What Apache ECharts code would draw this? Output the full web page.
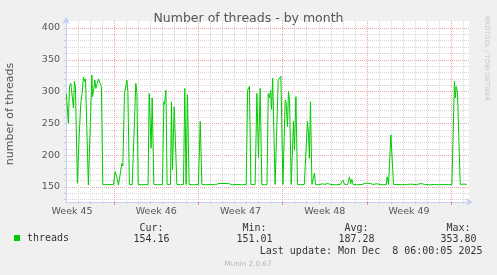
<!DOCTYPE html>
<html><head><meta charset="utf-8">
<script src="https://cdn.jsdelivr.net/npm/echarts@6/dist/echarts.min.js"></script>
<style>html,body{margin:0;padding:0;background:#f0f0f0;}#c{width:497px;height:275px;}</style>
</head><body><div id="c"></div>
<script>
// x values are days since Mon 2025-11-03 00:00 (start of week 45)
const seriesName = 'threads';
const threads = [
 [3.03,297],[3.2,250],[3.29,308],[3.4,313],[3.54,313],[3.62,274],[3.7,316],[3.78,308],[3.95,156],[4.09,229],
 [4.23,282],[4.34,297],[4.45,323],[4.53,316],[4.62,320],[4.86,153],[5.15,326],[5.2,292],[5.28,300],[5.4,318],
 [5.48,305],[5.58,312],[5.7,320],[5.84,313],[5.94,308],[6.06,154],[6.3,153.5],[6.6,154],[6.94,153.5],[7.08,174],
 [7.22,166],[7.36,153],[7.5,154],[7.64,187],[7.72,183],[7.86,297],[8.06,318],[8.14,300],[8.27,154],[8.5,153.5],
 [8.66,154],[8.8,313],[8.89,298],[9.0,154],[9.3,153.5],[9.6,154],[9.82,153.5],[9.91,297],[10.02,294],[10.07,211],
 [10.16,290],[10.3,154],[10.6,153.5],[11.01,154],[11.13,284],[11.18,280],[11.3,302],[11.4,154],[11.68,154],[11.76,284],
 [11.84,177],[11.99,276],[12.09,276],[12.21,154],[12.5,153.5],[12.76,154],[12.87,305],[12.98,154],[13.09,295],[13.23,154],
 [13.6,153.5],[14.0,154],[14.15,253],[14.29,154],[14.6,153.5],[15.0,154],[15.4,153.5],[15.7,155.5],[15.8,154],[15.95,155.5],
 [16.1,154],[16.3,155.5],[16.45,154],[16.6,155],[16.8,153.5],[17.2,154],[17.6,153.5],[17.97,154],[18.09,302],[18.16,300],
 [18.24,308],[18.36,154],[18.71,154],[18.86,297],[18.99,196],[19.13,305],[19.27,154],[19.5,153.5],[19.7,154],[19.8,297],
 [19.9,290],[20.0,302],[20.08,272],[20.17,321],[20.37,154],[20.5,154],[20.63,318],[20.75,316],[20.85,324],[21.02,154],
 [21.1,154],[21.21,287],[21.29,282],[21.4,245],[21.48,300],[21.57,287],[21.71,154],[21.79,154],[21.9,253],[21.98,208],
 [22.1,292],[22.23,154],[22.5,153.5],[22.8,154],[22.95,154],[23.06,253],[23.14,235],[23.22,195],[23.31,284],[23.43,154],
 [23.53,154],[23.64,172],[23.73,154],[24.0,153.5],[24.3,155],[24.5,154],[24.7,155.5],[25.0,154],[25.4,153.5],[25.8,154],
 [26.0,161],[26.15,154],[26.4,154],[26.55,166],[26.65,155],[26.75,162],[26.85,154],[27.2,153.5],[27.6,154],[27.85,156],
 [28.0,154],[28.3,155.5],[28.5,154],[28.8,155],[29.1,154],[29.4,153.5],[29.6,154],[29.68,166],[29.8,154],[29.92,154],
 [29.99,232],[30.14,231],[30.21,154],[30.5,154],[30.9,153.5],[31.3,154],[31.7,154.5],[32.1,153.5],[32.5,155.5],[32.65,156],
 [32.8,154],[33.2,153.5],[33.6,154],[34.0,153.5],[34.4,154],[34.8,153.5],[35.06,154],[35.27,316],[35.35,290],[35.41,308],
 [35.52,300],[35.75,154],[36.0,154.5],[36.3,154.2]
];
const yTicks = [130,140,150,160,170,180,190,200,210,220,230,240,250,260,270,280,290,300,310,320,330,340,350,360,370,380,390,400];
const yLabels = [150,200,250,300,350,400];
const dayTicks = [4,5,6,7,8,9,10,11,12,13,14,15,16,17,18,19,20,21,22,23,24,25,26,27,28,29,30,31,32,33,34,35,36];
const weekTicks = [7,14,21,28,35];
const weekLabelPos = [3.5,10.5,17.5,24.5,31.5];
const weekLabels = ['Week 45','Week 46','Week 47','Week 48','Week 49'];
const statNames = ['Cur:','Min:','Avg:','Max:'];
const statValues = ['154.16','151.01','187.28','353.80'];
const titleText = 'Number of threads - by month';
const yName = 'number of threads';
const lastUpdate = 'Last update: Mon Dec  8 06:00:05 2025';
const footer = 'Munin 2.0.67';
const watermark = 'RRDTOOL / TOBI OETIKER';

const G = '#d6d6d6', R = '#eaa4a4';
const axisBlue = '#c6cff6';
const mono = '"DejaVu Sans Mono", monospace';
const sans = '"DejaVu Sans", sans-serif';

const statLabelRight = [163.5, 266.5, 368.5, 470.5];
const statValueRight = [169.5, 272.5, 374.5, 476.5];
const graphics = [
  {type:'text', x:248.5, y:19, style:{text:titleText, fill:'#555', font:'12.5px '+sans, textAlign:'center', textVerticalAlign:'middle', align:'center', verticalAlign:'middle'}},
  {type:'text', x:10.5, y:114, rotation:Math.PI/2, style:{text:yName, fill:'#555', font:'11px '+sans, textAlign:'center', textVerticalAlign:'middle', align:'center', verticalAlign:'middle'}},
  {type:'text', x:487, y:58.5, rotation:-Math.PI/2, style:{text:watermark, fill:'#c4c4c4', font:'6.6px '+sans, textAlign:'center', textVerticalAlign:'middle', align:'center', verticalAlign:'middle'}},
  {type:'text', x:482.5, y:251.5, style:{text:lastUpdate, fill:'#333', font:'10px '+mono, textAlign:'right', textVerticalAlign:'middle', align:'right', verticalAlign:'middle'}},
  {type:'text', x:248, y:264.5, style:{text:footer, fill:'#b8b8b8', font:'7.2px '+sans, textAlign:'center', textVerticalAlign:'middle', align:'center', verticalAlign:'middle'}}
];
statNames.forEach((s,i)=>{
  graphics.push({type:'text', x:statLabelRight[i], y:228, style:{text:s, fill:'#333', font:'10px '+mono, textAlign:'right', textVerticalAlign:'middle', align:'right', verticalAlign:'middle'}});
  graphics.push({type:'text', x:statValueRight[i], y:239.5, style:{text:statValues[i], fill:'#333', font:'10px '+mono, textAlign:'right', textVerticalAlign:'middle', align:'right', verticalAlign:'middle'}});
});

const chart = echarts.init(document.getElementById('c'), null, {renderer:'canvas'});
chart.setOption({
  animation:false,
  backgroundColor:'#f0f0f0',
  grid:{left:66, top:21, width:403, height:181, show:true, backgroundColor:'#ffffff', borderWidth:0, containLabel:false},
  legend:{left:9, top:228, icon:'rect', itemWidth:6, itemHeight:6, data:[seriesName],
    textStyle:{fontFamily:mono, fontSize:10, color:'#333', padding:[0,0,0,2]}},
  graphic: graphics,
  xAxis:[{
    type:'value', min:3.0, max:36.48,
    axisLine:{show:true, lineStyle:{color:axisBlue, width:1}, symbol:['none','arrow'], symbolSize:[6,7], symbolOffset:[0,4]},
    axisTick:{show:true, customValues:dayTicks, length:2, lineStyle:{color:'#ccc'}},
    axisLabel:{customValues:weekLabelPos, formatter:(v)=>weekLabels[weekLabelPos.indexOf(v)] || '', fontFamily:sans, fontSize:9.5, color:'#555', margin:5},
    splitLine:{show:true, lineStyle:{color:[G,G,G,R,G,G,G], type:[1,1], width:1}}
  },{
    type:'value', min:3.0, max:36.48, position:'bottom',
    axisLine:{show:false}, axisLabel:{show:false}, splitLine:{show:false},
    axisTick:{show:true, customValues:weekTicks, length:3, lineStyle:{color:'#e88'}}
  }],
  yAxis:{
    type:'value', min:126.4, max:411,
    axisLine:{show:true, lineStyle:{color:axisBlue, width:1}, symbol:['none','arrow'], symbolSize:[6,7], symbolOffset:[0,4]},
    axisTick:{show:true, customValues:yTicks, length:2, lineStyle:{color:'#ccc'}},
    axisLabel:{customValues:yLabels, fontFamily:sans, fontSize:9.5, color:'#555', margin:6},
    splitLine:{show:true, lineStyle:{color:[G,G,R,G,G], type:[1,1], width:1}}
  },
  series:[{
    name:seriesName, type:'line', data:threads, xAxisIndex:0, showSymbol:false, symbol:'none',
    lineStyle:{color:'#00cc00', width:1}, itemStyle:{color:'#00cc00'}, z:5
  }]
});
</script>
</body></html>
